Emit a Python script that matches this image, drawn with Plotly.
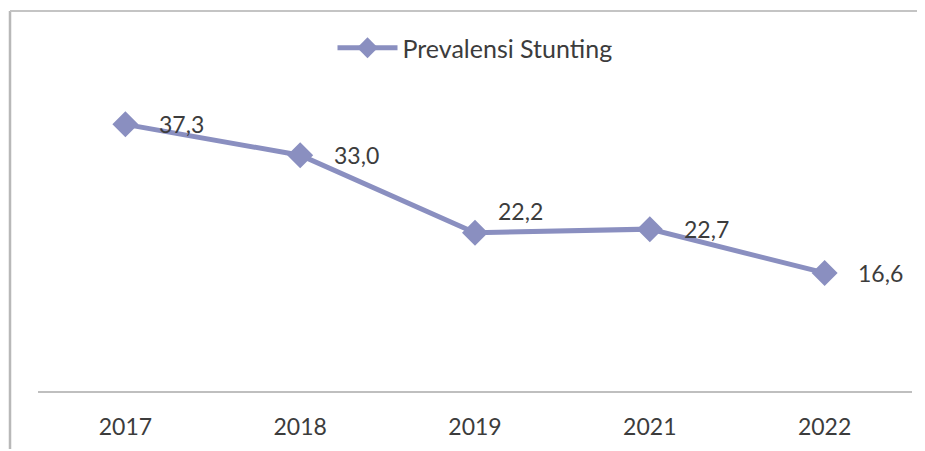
import plotly.graph_objects as go

years = ["2017", "2018", "2019", "2021", "2022"]
prevalence = [37.3, 33.0, 22.2, 22.7, 16.6]
series_name = "Prevalensi Stunting"

line_color = "#8a8fc0"
text_color = "#3c3c3c"
font_family = "Lato, 'Open Sans', sans-serif"

fig = go.Figure()
fig.add_trace(go.Scatter(
    x=years, y=prevalence, mode="lines+markers", name=series_name,
    line=dict(color=line_color, width=5),
    marker=dict(symbol="diamond", size=20, color=line_color),
))

# data labels (comma decimal), mostly to the right of the point
label_yshift = [0, 0, 22, 0, 0]
label_xshift = [32, 32, 21, 32, 31]
for i, (v, xs, ys) in enumerate(zip(prevalence, label_xshift, label_yshift)):
    fig.add_annotation(
        x=i, y=v, text=f"{v:.1f}".replace(".", ","), showarrow=False,
        xanchor="left", yanchor="middle", xshift=xs, yshift=ys,
        font=dict(family=font_family, size=23, color=text_color),
    )

# page body has an 8px margin, so figure coordinates are page - 8
W, H = 917, 443
L, R, T, B = 30, 13, 97, 59
pw, ph = W - L - R, H - T - B
border_x0 = (2 - L) / pw
border_y1 = 1 + (T - 3) / ph
fig.add_shape(type="line", xref="paper", yref="paper",
              x0=border_x0, x1=border_x0, y0=-(B - 2) / ph, y1=border_y1,
              line=dict(color="#b8b8b8", width=2.5), layer="above")
fig.add_shape(type="line", xref="paper", yref="paper",
              x0=border_x0, x1=1 + (R + 10) / pw, y0=border_y1, y1=border_y1,
              line=dict(color="#c4c4c4", width=2), layer="above")

fig.update_layout(
    width=W, height=H,
    margin=dict(l=L, r=R, t=T, b=B),
    paper_bgcolor="white", plot_bgcolor="white",
    showlegend=True,
    legend=dict(orientation="h", x=0.5, xanchor="center", y=1 + (T - 40) / ph, yanchor="middle",
                font=dict(family=font_family, size=25, color=text_color),
                itemwidth=60, bgcolor="rgba(0,0,0,0)"),
    xaxis=dict(type="category", range=[-0.5, 4.5], showgrid=False, zeroline=False,
               showline=False, ticks="", ticklabelstandoff=19,
               tickfont=dict(family=font_family, size=23, color=text_color)),
    yaxis=dict(range=[0, 40], showgrid=False, zeroline=True, zerolinecolor="#bfbfbf",
               zerolinewidth=1.5, showticklabels=False, showline=False),
)

fig.write_html("out.html")
